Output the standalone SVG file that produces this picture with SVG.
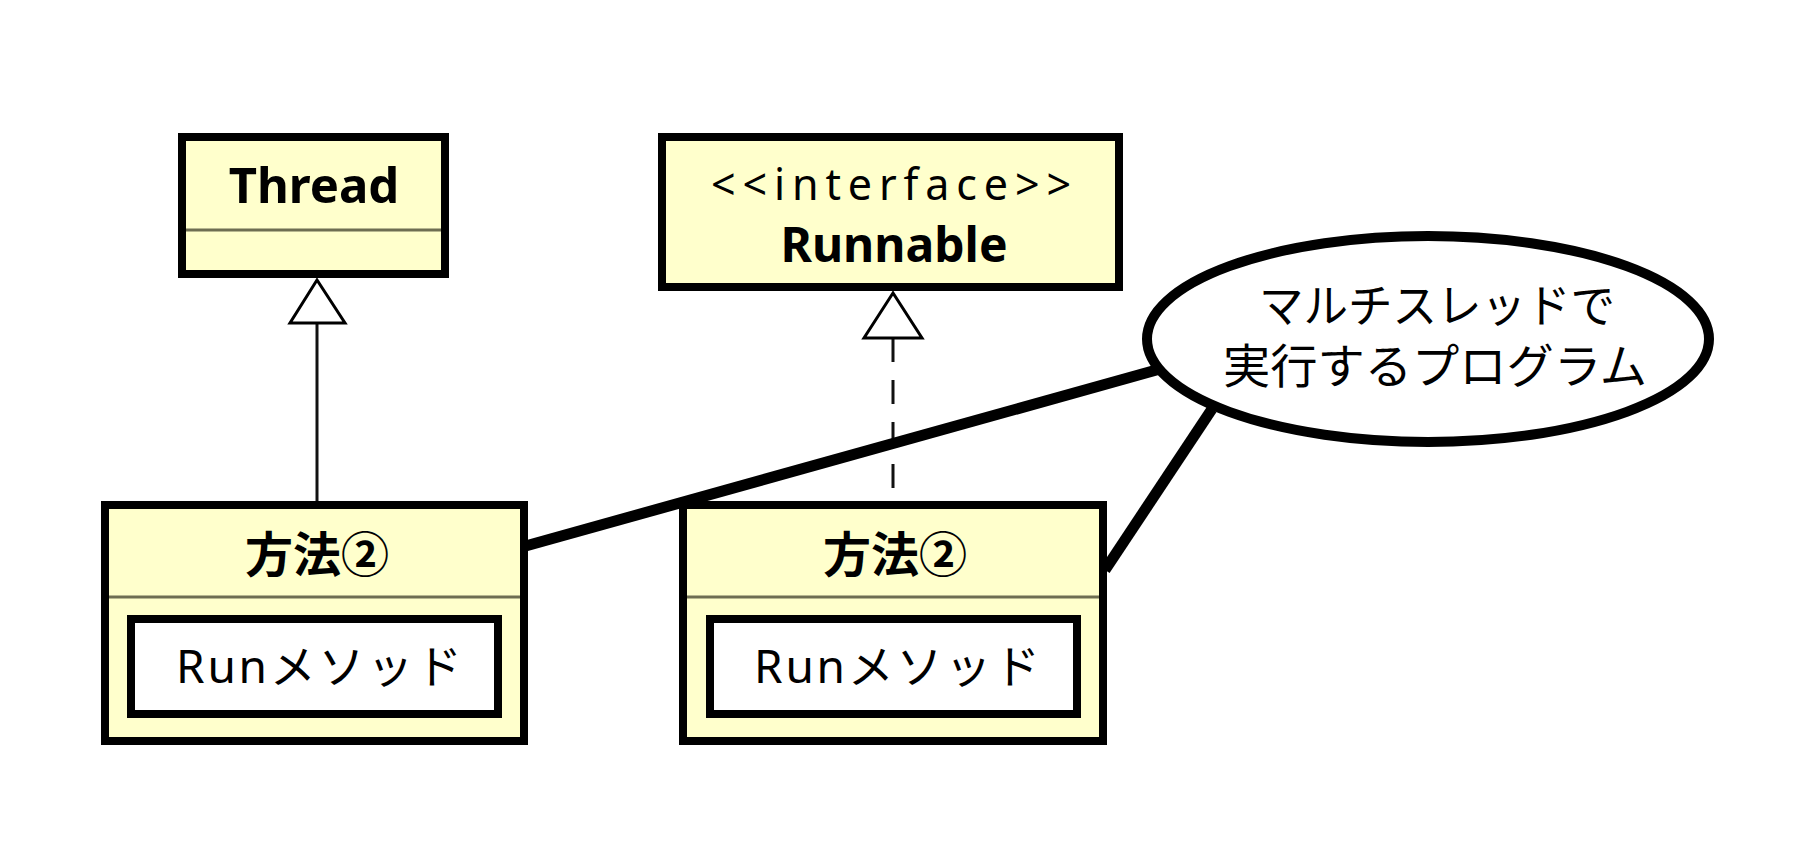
<svg xmlns="http://www.w3.org/2000/svg" width="1813" height="846" viewBox="0 0 1813 846">
<style>
.box{fill:#FFFFCC;stroke:#000;stroke-width:8}
.sep{stroke:#6e6e52;stroke-width:3}
.inner{fill:#fff;stroke:#000;stroke-width:8}
.b{font-family:"Noto Sans","Noto Sans CJK JP",sans-serif;font-weight:bold;fill:#000;text-anchor:middle}
.r{font-family:"Noto Sans","Noto Sans CJK JP",sans-serif;fill:#000;text-anchor:middle}
.tri{fill:#fff;stroke:#000;stroke-width:3}
.note{stroke:#000;stroke-width:11;fill:none}
</style>
<rect width="1813" height="846" fill="#fff"/>
<g id="connectors">
<line x1="317" y1="323" x2="317" y2="501" stroke="#111" stroke-width="3"/>
<polygon class="tri" points="317,280 290,323 345,323"/>
<line x1="893" y1="338" x2="893" y2="501" stroke="#111" stroke-width="3" stroke-dasharray="24,18"/>
<polygon class="tri" points="893,293 864,338 922,338"/>
</g>
<g id="thread">
<rect class="box" x="182" y="137" width="263" height="137"/>
<line class="sep" x1="186" y1="230" x2="441" y2="230"/>
<text class="b" x="314" y="203" font-size="49">Thread</text>
</g>
<g id="runnable">
<rect class="box" x="662" y="137" width="457" height="150"/>
<text class="r" x="891" y="200" font-size="43" textLength="360" lengthAdjust="spacing">&lt;&lt;interface&gt;&gt;</text>
<text class="b" x="894" y="262" font-size="48">Runnable</text>
</g>
<g id="method1">
<rect class="box" x="105" y="505" width="419" height="236"/>
<line class="sep" x1="109" y1="597" x2="520" y2="597"/>
<text class="b" x="317" y="572" font-size="48">方法②</text>
<rect class="inner" x="131" y="619" width="367" height="95"/>
<text class="r" x="319" y="683" font-size="46" textLength="286" lengthAdjust="spacing">Runメソッド</text>
</g>
<g id="method2">
<rect class="box" x="683" y="505" width="420" height="236"/>
<line class="sep" x1="687" y1="597" x2="1099" y2="597"/>
<text class="b" x="895" y="572" font-size="48">方法②</text>
<rect class="inner" x="710" y="619" width="367" height="95"/>
<text class="r" x="897" y="683" font-size="46" textLength="286" lengthAdjust="spacing">Runメソッド</text>
</g>
<g id="note-links">
<line class="note" x1="522" y1="547" x2="1160" y2="369"/>
<line class="note" x1="1105" y1="570" x2="1212" y2="409"/>
</g>
<g id="note">
<ellipse cx="1428" cy="339" rx="281" ry="103" fill="#fff" stroke="#000" stroke-width="10"/>
<text class="r" x="1437" y="322" font-size="46" textLength="356" lengthAdjust="spacingAndGlyphs">マルチスレッドで</text>
<text class="r" x="1435" y="383" font-size="47" textLength="424" lengthAdjust="spacingAndGlyphs">実行するプログラム</text>
</g>
</svg>
